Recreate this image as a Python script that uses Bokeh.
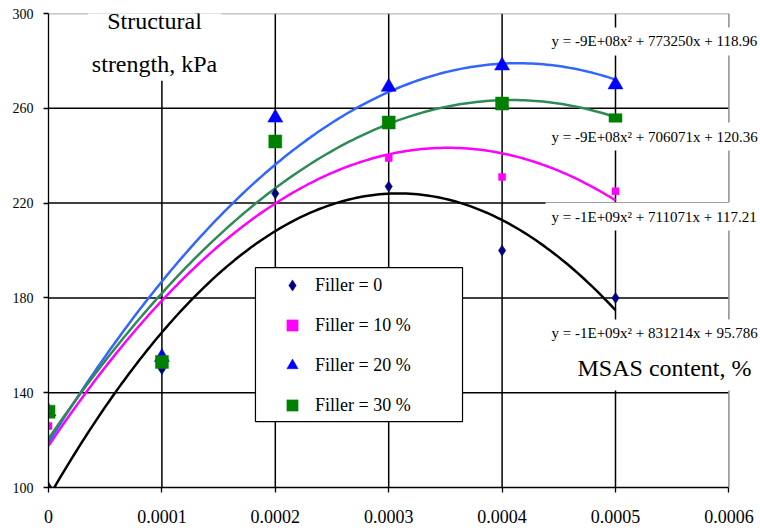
import numpy as np
from bokeh.plotting import figure
from bokeh.models import Label, Legend, LegendItem, FixedTicker, Range1d, BoxAnnotation
from bokeh.embed import file_html
from bokeh.resources import INLINE

# ---- data ----
x_vals = [0, 0.0001, 0.0002, 0.0003, 0.0004, 0.0005]
filler_0 = [100, 150, 224, 227, 200, 180]
filler_10 = [126, 152, 246, 239, 231, 225]
filler_20 = [132, 155, 256, 269, 278, 270]
filler_30 = [132, 153, 246, 254, 262, 255]
series_labels = ["Filler = 0", "Filler = 10 %", "Filler = 20 %", "Filler = 30 %"]
equations = [
    "y = -1E+09x\u00b2 + 831214x + 95.786",
    "y = -1E+09x\u00b2 + 711071x + 117.21",
    "y = -9E+08x\u00b2 + 773250x + 118.96",
    "y = -9E+08x\u00b2 + 706071x + 120.36",
]
x_ticks = [0, 0.0001, 0.0002, 0.0003, 0.0004, 0.0005, 0.0006]
x_tick_labels = ["0", "0.0001", "0.0002", "0.0003", "0.0004", "0.0005", "0.0006"]
y_ticks = [100, 140, 180, 220, 260, 300]
y_title = "Structural\nstrength, kPa"
x_title = "MSAS content, %"

FONT = "Liberation Serif"

# frame extends a little past 0.0006 so that right-hand texts are not clipped
x_end = x_ticks[-1] * 712 / 680.4
p = figure(width=760, height=531, output_backend="svg", toolbar_location=None,
           x_range=Range1d(x_ticks[0], x_end), y_range=Range1d(y_ticks[0], y_ticks[-1]),
           min_border_left=48, min_border_right=0, min_border_top=13, min_border_bottom=44)
p.background_fill_color = "white"
p.border_fill_color = "white"
p.outline_line_color = None
p.xgrid.grid_line_color = None
p.ygrid.grid_line_color = None

# axes
p.xaxis.ticker = FixedTicker(ticks=x_ticks)
p.xaxis.major_label_overrides = {t: l for t, l in zip(x_ticks, x_tick_labels)}
p.xaxis.bounds = (x_ticks[0], x_ticks[-1])
p.yaxis.ticker = FixedTicker(ticks=y_ticks)
for ax in (p.xaxis, p.yaxis):
    ax.axis_line_color = "black"
    ax.axis_line_width = 1.3
    ax.major_tick_line_color = "black"
    ax.major_tick_line_width = 1.3
    ax.major_tick_out = 5
    ax.major_tick_in = 0
    ax.minor_tick_line_color = None
    ax.major_label_text_font = FONT
    ax.major_label_text_color = "black"
p.xaxis.major_label_text_font_size = "18px"
p.xaxis.major_label_standoff = 17
p.yaxis.major_label_text_font_size = "14px"
p.yaxis.major_label_standoff = 10

# grid lines drawn from the tick arrays (inner black, outer border grey)
inner_x = x_ticks[1:-1]
inner_y = y_ticks[1:-1]
p.segment(x0=inner_x, y0=[y_ticks[0]] * len(inner_x), x1=inner_x, y1=[y_ticks[-1]] * len(inner_x),
          line_color="black", line_width=1.5, level="underlay")
p.segment(x0=[x_ticks[0]] * len(inner_y), y0=inner_y, x1=[x_ticks[-1]] * len(inner_y), y1=inner_y,
          line_color="black", line_width=1.5, level="underlay")
p.segment(x0=[x_ticks[0], x_ticks[-1]], y0=[y_ticks[-1], y_ticks[0]],
          x1=[x_ticks[-1], x_ticks[-1]], y1=[y_ticks[-1], y_ticks[-1]],
          line_color="#8c8c8c", line_width=1.5, level="underlay")

series = [filler_0, filler_10, filler_20, filler_30]
line_colors = ["#000000", "#ff00ff", "#3366ff", "#2e8b57"]
marker_colors = ["#000080", "#ff00ff", "#0000ff", "#008000"]
markers = ["diamond", "square", "triangle", "square"]
sizes = [11, 7, 15, 13]

# trend lines (2nd order polynomial fits)
xs = np.linspace(x_vals[0], x_vals[-1], 150)
for ys, c in zip(series, line_colors):
    coef = np.polyfit(x_vals, ys, 2)
    p.line(xs, np.polyval(coef, xs), line_color=c, line_width=2.5)

# markers
renderers = []
for ys, c, m, s in zip(series, marker_colors, markers, sizes):
    r = p.scatter(x_vals, ys, marker=m, size=s, fill_color=c, line_color=c, line_width=0.5)
    renderers.append(r)

# equation labels
eq_y = [165.0, 214.3, 288.2, 248.1]
for txt, yy in zip(equations, eq_y):
    p.add_layout(Label(x=0.0004383, y=yy, text=txt, text_font=FONT, text_font_size="15px",
                       text_color="black", text_align="left", text_baseline="middle",
                       background_fill_color="white", padding=6))

# axis titles
p.add_layout(Label(x=0.0000935, y=287.8, text=y_title, text_font=FONT, text_font_size="24px",
                   text_color="black", text_align="center", text_baseline="middle",
                   text_line_height=1.65, background_fill_color="white", padding=4))
p.add_layout(Label(x=0.0004577, y=150.6, text=x_title, text_font=FONT, text_font_size="24px",
                   text_color="black", text_align="left", text_baseline="middle",
                   background_fill_color="white", padding=10))

# legend frame + legend
p.add_layout(BoxAnnotation(left=0.0001825, right=0.0003651, top=192.8, bottom=127.8,
                           fill_color="white", fill_alpha=1, line_color="black", line_width=1.2,
                           line_alpha=1))
legend = Legend(items=[LegendItem(label=lab, renderers=[r]) for lab, r in zip(series_labels, renderers)],
                location=(221, 68), orientation="vertical", padding=2, spacing=12,
                glyph_width=46, glyph_height=28, label_standoff=0, label_height=20,
                label_text_font=FONT, label_text_font_size="18px", label_text_color="black",
                border_line_color=None, background_fill_alpha=0, margin=0)
p.add_layout(legend)

open("out.html", "w").write(file_html(p, INLINE))
